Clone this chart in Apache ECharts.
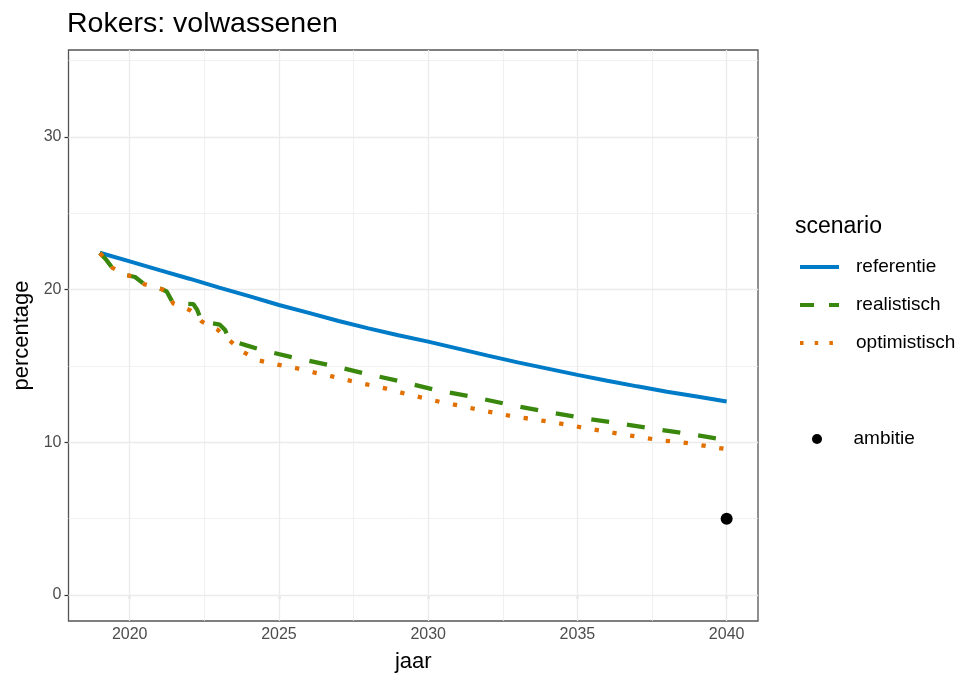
<!DOCTYPE html>
<html><head><meta charset="utf-8">
<script src="https://cdn.jsdelivr.net/npm/echarts@6/dist/echarts.min.js"></script>
<style>html,body{margin:0;padding:0;background:#fff}#c{width:958px;height:678px}</style>
</head><body><div id="c"></div>
<script>
const xTicks = [2020, 2025, 2030, 2035, 2040];
const xMinor = [2022.5, 2027.5, 2032.5, 2037.5];
const yTicks = [0, 10, 20, 30];
const yMinor = [5, 15, 25, 35];

const refYears = [2019,2020,2021,2022,2023,2024,2025,2026,2027,2028,2029,2030,2031,2032,2033,2034,2035,2036,2037,2038,2039,2040];
const refValues = [22.42,21.85,21.28,20.72,20.14,19.58,19.0,18.48,17.95,17.47,17.02,16.6,16.14,15.68,15.24,14.83,14.42,14.04,13.67,13.32,13.0,12.68];

const realYears = [2019.0,2019.2,2019.41,2019.91,2020.18,2020.49,2021.08,2021.24,2021.46,2022.13,2022.26,2022.41,2023.02,2023.19,2023.35,2023.91,2024.49,2025.39,2026.63,2027.84,2029.06,2030.28,2031.5,2032.72,2033.95,2035.17,2036.4,2037.63,2038.88,2040.0];
const realValues = [22.4,22.0,21.45,20.95,20.83,20.36,20.03,19.88,19.1,19.06,18.69,17.92,17.71,17.38,16.69,16.35,16.02,15.6,15.09,14.53,14.0,13.42,12.98,12.47,12.01,11.6,11.24,10.87,10.51,10.15];

const optYears = [2019.0,2019.2,2019.41,2019.91,2020.18,2020.49,2021.08,2021.24,2021.46,2022.02,2022.2,2022.41,2022.93,2023.35,2023.8,2024.33,2024.95,2025.56,2026.16,2026.78,2027.37,2027.98,2028.6,2029.21,2029.8,2030.4,2031.01,2031.64,2032.24,2032.85,2033.46,2034.08,2034.7,2035.32,2035.93,2036.54,2037.16,2037.79,2038.4,2039.03,2039.64,2040.0];
const optValues = [22.4,22.0,21.45,20.95,20.83,20.36,20.03,19.88,19.1,18.66,18.4,17.92,17.4,16.66,15.92,15.37,15.09,14.87,14.58,14.32,14.04,13.78,13.52,13.2,12.93,12.65,12.42,12.16,11.93,11.7,11.53,11.34,11.14,10.92,10.72,10.51,10.33,10.13,10.03,9.85,9.66,9.55];

const ambYears = [2040];
const ambValues = [5.0];

const zip = (xs, ys) => xs.map((x, i) => [x, ys[i]]);
const FONT = 'Liberation Sans, Arial, sans-serif';
const BLUE = '#007BC7', GREEN = '#39870C', ORANGE = '#E17000';

const chart = echarts.init(document.getElementById('c'), null, {renderer: 'canvas'});
const gridLines = [
  ...xTicks.map(v => ({xAxis: v, lineStyle: {width: 1.3}})),
  ...xMinor.map(v => ({xAxis: v, lineStyle: {width: 0.7}})),
  ...yTicks.map(v => ({yAxis: v, lineStyle: {width: 1.3}})),
  ...yMinor.map(v => ({yAxis: v, lineStyle: {width: 0.7}}))
];
const legendText = {fontFamily: FONT, fontSize: 19, color: '#000', lineHeight: 22, padding: [0, 0, 0, 12]};
chart.setOption({
  animation: false,
  backgroundColor: '#fff',
  title: [
    {text: 'Rokers: volwassenen', left: 67, top: 10, padding: 0,
     textStyle: {fontFamily: FONT, fontSize: 28.5, fontWeight: 'normal', color: '#000'}},
    {text: 'scenario', left: 795, top: 215, padding: 0,
     textStyle: {fontFamily: FONT, fontSize: 23, fontWeight: 'normal', color: '#000'}}
  ],
  grid: {left: 68.5, right: 200, top: 50, bottom: 56, show: true, borderColor: '#555', borderWidth: 1.3, backgroundColor: '#fff'},
  xAxis: {
    type: 'value', min: 2017.95, max: 2041.05,
    name: 'jaar', nameLocation: 'middle', nameGap: 30,
    nameTextStyle: {fontFamily: FONT, fontSize: 22, color: '#000'},
    axisLine: {show: false},
    axisTick: {show: true, customValues: xTicks, length: 4, lineStyle: {color: '#333', width: 1.2}},
    axisLabel: {customValues: xTicks, formatter: v => String(v), fontFamily: FONT, fontSize: 16, color: '#4D4D4D', margin: 6},
    splitLine: {show: false}
  },
  yAxis: {
    type: 'value', min: -1.7, max: 35.7,
    name: 'percentage', nameLocation: 'middle', nameGap: 36,
    nameTextStyle: {fontFamily: FONT, fontSize: 22, color: '#000'},
    axisLine: {show: false},
    axisTick: {show: true, customValues: yTicks, length: 4, lineStyle: {color: '#333', width: 1.2}},
    axisLabel: {customValues: yTicks, formatter: v => String(v), fontFamily: FONT, fontSize: 16, color: '#4D4D4D', margin: 7},
    splitLine: {show: false}
  },
  legend: [
    {orient: 'vertical', left: 798, top: 256, padding: 0, itemWidth: 39, itemHeight: 14, itemGap: 16, selectedMode: false,
     itemStyle: {opacity: 0},
     lineStyle: {width: 4},
     textStyle: legendText,
     data: [
       {name: 'referentie', lineStyle: {width: 4}},
       {name: 'realistisch', lineStyle: {width: 4, type: [14, 15]}},
       {name: 'optimistisch', lineStyle: {width: 4, type: [3.5, 11.2]}}
     ]},
    {orient: 'vertical', left: 812, top: 428, padding: 0, itemWidth: 39, itemHeight: 10, selectedMode: false,
     textStyle: legendText,
     data: [{name: 'ambitie'}]}
  ],
  series: [
    {type: 'line', name: '_grid', data: [], silent: true,
     markLine: {silent: true, z: 1, symbol: ['none', 'none'], label: {show: false}, animation: false,
       emphasis: {disabled: true}, lineStyle: {color: '#EBEBEB', type: 'solid'}, data: gridLines}},
    {type: 'line', name: 'referentie', data: zip(refYears, refValues), symbol: 'none', z: 3,
     lineStyle: {color: BLUE, width: 4}, itemStyle: {color: BLUE}},
    {type: 'line', name: 'realistisch', data: zip(realYears, realValues), symbol: 'none', z: 4,
     lineStyle: {color: GREEN, width: 4.3, type: [18, 18]}, itemStyle: {color: GREEN}},
    {type: 'line', name: 'optimistisch', data: zip(optYears, optValues), symbol: 'none', z: 5,
     lineStyle: {color: ORANGE, width: 4.3, type: [4.3, 13.7]}, itemStyle: {color: ORANGE}},
    {type: 'scatter', name: 'ambitie', data: zip(ambYears, ambValues), symbol: 'circle', symbolSize: 12, z: 6,
     itemStyle: {color: '#000', opacity: 1}}
  ]
});
</script></body></html>
